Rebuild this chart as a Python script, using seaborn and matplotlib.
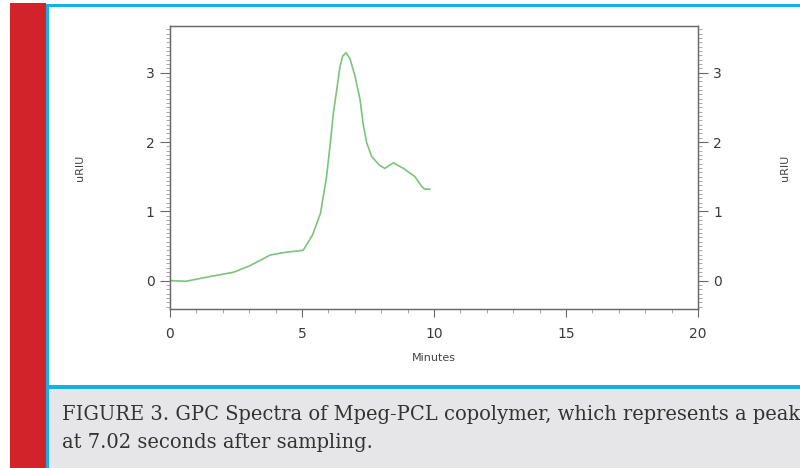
import numpy as np
import pandas as pd
import seaborn as sns
import matplotlib
matplotlib.use("Agg")
import matplotlib.pyplot as plt
from matplotlib.patches import Rectangle
from matplotlib.ticker import MultipleLocator

# GPC trace (minutes, uRIU)
minutes = [0.0, 0.6, 1.4, 2.4, 3.0, 3.4, 3.8, 4.4, 4.9, 5.05, 5.4, 5.7, 5.93, 6.06,
           6.19, 6.31, 6.44, 6.54, 6.67, 6.82, 7.01, 7.2, 7.32, 7.45, 7.64, 7.95,
           8.14, 8.46, 8.84, 9.28, 9.53, 9.65, 9.85]
uriu = [0.0, -0.01, 0.05, 0.12, 0.21, 0.29, 0.37, 0.41, 0.43, 0.44, 0.66, 0.97, 1.5, 1.94,
        2.42, 2.74, 3.09, 3.24, 3.29, 3.2, 2.95, 2.61, 2.25, 1.99, 1.79, 1.66,
        1.62, 1.70, 1.62, 1.50, 1.36, 1.32, 1.32]
x_ticks = [0, 5, 10, 15, 20]
y_ticks = [0, 1, 2, 3]
caption_lines = ["FIGURE 3. GPC Spectra of Mpeg-PCL copolymer, which represents a peak",
                 "at 7.02 seconds after sampling."]

df = pd.DataFrame({"Minutes": minutes, "uRIU": uriu})

sns.set_style("ticks")
plt.rcParams['font.family'] = ['DejaVu Sans']

W, H = 800, 468
fig = plt.figure(figsize=(W / 100, H / 100), dpi=100)
fig.patch.set_facecolor("white")

def px_rect(x0, y0, x1, y1, color):
    # rectangle in pixel coords (y from top)
    fig.patches.append(Rectangle((x0 / W, 1 - y1 / H), (x1 - x0) / W, (y1 - y0) / H,
                                 transform=fig.transFigure, facecolor=color,
                                 edgecolor="none", zorder=0))

red = "#d2232a"
blue = "#1aaee8"
px_rect(10, 3.3, 46, H, red)
px_rect(46, 4, 800, 6.5, blue)
px_rect(46, 4, 49, H, blue)
px_rect(49, 384.5, 800, 388.5, blue)
px_rect(49, 388.5, 800, H, "#e6e6e8")

for i, line in enumerate(caption_lines):
    fig.text(62 / W, 1 - (419.5 + 29 * i) / H, line, ha="left", va="baseline",
             fontsize=14.05, family="DejaVu Serif", color="#333333")

ax = fig.add_axes([170 / W, 1 - 309 / H, 528 / W, 283 / H])
sns.lineplot(data=df, x="Minutes", y="uRIU", ax=ax, color="#7cc47c", linewidth=1.2)

ax.set_xlim(0, 20)
ax.set_ylim(-0.41, 3.675)
ax.set_xticks(x_ticks)
ax.set_yticks(y_ticks)
ax.xaxis.set_minor_locator(MultipleLocator(1))
ax.yaxis.set_minor_locator(MultipleLocator(0.0625))

spine_c = "#6a6a6a"
for s in ax.spines.values():
    s.set_color(spine_c)
    s.set_linewidth(1.0)
ax.tick_params(axis="both", which="major", direction="out", color=spine_c,
               labelcolor="#3a3a3a", labelsize=10)
ax.tick_params(axis="y", which="major", length=7, pad=4)
ax.tick_params(axis="y", which="minor", length=3, color="#9a9a9a")
ax.tick_params(axis="x", which="major", length=6, pad=7)
ax.tick_params(axis="x", which="minor", length=3, color="#9a9a9a")

ax.set_xlabel("Minutes", fontsize=8, color="#444444")
ax.xaxis.set_label_coords(0.5, -0.155)
ax.set_ylabel("uRIU", fontsize=8, color="#444444")
ax.yaxis.set_label_coords(-0.161, 0.5)

ax2 = ax.twinx()
ax2.set_ylim(ax.get_ylim())
ax2.set_yticks(y_ticks)
ax2.yaxis.set_minor_locator(MultipleLocator(0.0625))
for s in ax2.spines.values():
    s.set_color(spine_c)
ax2.tick_params(axis="y", which="major", direction="out", length=7, pad=4, color=spine_c,
                labelcolor="#3a3a3a", labelsize=10)
ax2.tick_params(axis="y", which="minor", length=3, color="#9a9a9a")
ax2.set_ylabel("uRIU", fontsize=8, color="#444444", rotation=90)
ax2.yaxis.set_label_coords(1.155, 0.5)

fig.savefig("out.png", dpi=100)
